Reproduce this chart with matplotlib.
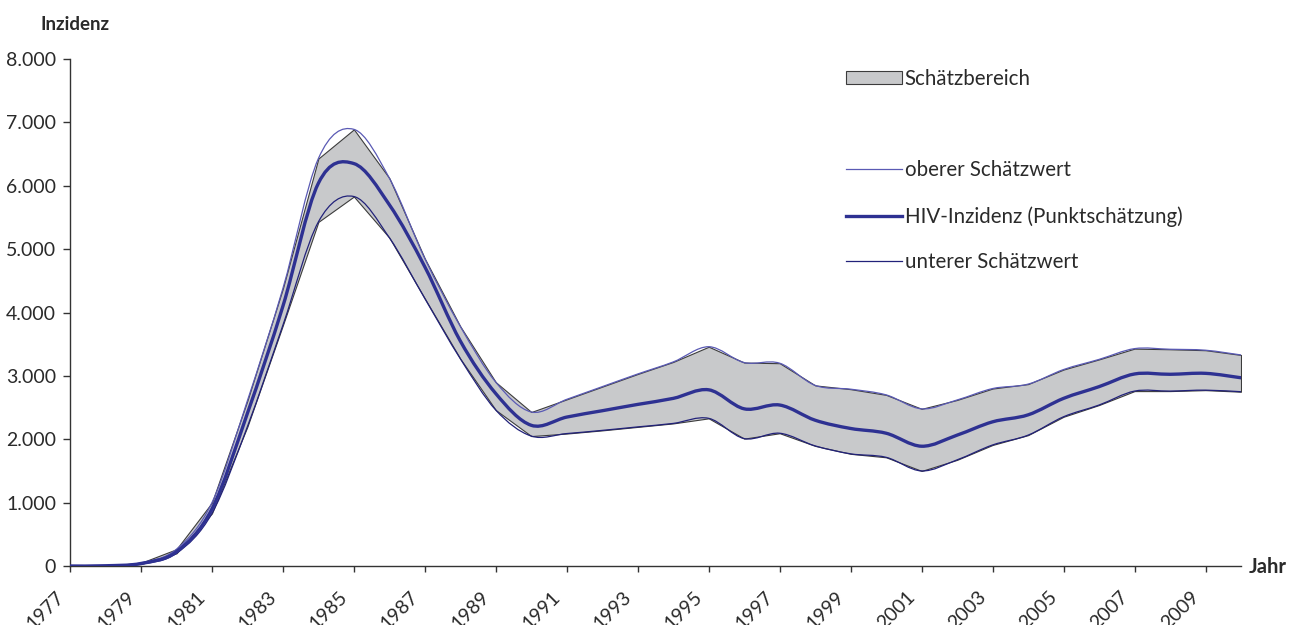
import matplotlib
matplotlib.use("Agg")
import matplotlib.pyplot as plt
from matplotlib.path import Path
from matplotlib.patches import PathPatch, Patch
from matplotlib.lines import Line2D
from matplotlib.ticker import FuncFormatter
from matplotlib.transforms import ScaledTranslation

plt.rcParams['font.family'] = ['Lato', 'DejaVu Sans']

years = list(range(1977, 2011))
upper = [0, 5, 50, 265, 1000, 2610, 4380, 6430, 6890, 6120, 4850, 3780, 2900,
         2430, 2630, 2830, 3030, 3220, 3460, 3210, 3200, 2850, 2790, 2700,
         2480, 2620, 2800, 2870, 3100, 3260, 3430, 3420, 3405, 3330]
point = [0, 4, 40, 225, 900, 2410, 4100, 6040, 6350, 5700, 4720, 3550, 2720,
         2220, 2350, 2450, 2550, 2645, 2780, 2480, 2540, 2300, 2170, 2095,
         1890, 2065, 2275, 2385, 2645, 2830, 3030, 3025, 3040, 2970]
lower = [0, 3, 30, 200, 830, 2200, 3800, 5430, 5830, 5180, 4220, 3270, 2460,
         2050, 2090, 2140, 2195, 2250, 2330, 2010, 2095, 1895, 1770, 1715,
         1500, 1675, 1910, 2065, 2355, 2540, 2760, 2760, 2775, 2750]
xtick_years = list(range(1977, 2010, 2))
yticks = list(range(0, 8001, 1000))

BAND = '#c8c9cb'
EDGE = '#3c3c3c'
C_UP = '#5a5ab4'
C_MID = '#2e3192'
C_LOW = '#22227a'
TXT = '#2a2a2a'


def smooth_path(xs, ys):
    """Excel-like smoothed line as cubic Bezier path through the points."""
    n = len(xs)
    verts = [(xs[0], ys[0])]
    codes = [Path.MOVETO]
    for i in range(n - 1):
        x0, y0 = xs[max(i - 1, 0)], ys[max(i - 1, 0)]
        x1, y1 = xs[i], ys[i]
        x2, y2 = xs[i + 1], ys[i + 1]
        x3, y3 = xs[min(i + 2, n - 1)], ys[min(i + 2, n - 1)]
        c1 = (x1 + (x2 - x0) / 6.0, y1 + (y2 - y0) / 6.0)
        c2 = (x2 - (x3 - x1) / 6.0, y2 - (y3 - y1) / 6.0)
        verts += [c1, c2, (x2, y2)]
        codes += [Path.CURVE4, Path.CURVE4, Path.CURVE4]
    return Path(verts, codes)


fig = plt.figure(figsize=(12.93, 6.25), dpi=100)
ax = fig.add_axes([70 / 1293, 1 - 566 / 625, (1241 - 70) / 1293, (566 - 59) / 625])

ax.fill_between(years, lower, upper, facecolor=BAND, edgecolor=EDGE,
                linewidth=0.8, zorder=1)

for ys, col, lw in [(upper, C_UP, 0.9), (lower, C_LOW, 0.9), (point, C_MID, 2.4)]:
    ax.add_patch(PathPatch(smooth_path(years, ys), fill=False, edgecolor=col,
                           linewidth=lw, zorder=3, capstyle='round'))

ax.set_xlim(1977, 2010)
ax.set_ylim(0, 8000)
ax.set_xticks(xtick_years)
ax.set_xticklabels([])
# rotated year labels, placed below-left of each tick like the reference
off = ScaledTranslation(-15 / 100, -22 / 100, fig.dpi_scale_trans)
for y in xtick_years:
    ax.text(y, 0, str(y), transform=ax.get_xaxis_transform() + off,
            rotation=45, ha='right', va='top', rotation_mode='anchor',
            fontsize=14, color=TXT, clip_on=False)

ax.set_yticks(yticks)
ax.yaxis.set_major_formatter(FuncFormatter(lambda v, p: f"{int(v):,}".replace(',', '.')))
for lab in ax.get_yticklabels():
    lab.set_fontsize(14)
    lab.set_color(TXT)

for s in ['top', 'right']:
    ax.spines[s].set_visible(False)
for s in ['left', 'bottom']:
    ax.spines[s].set_color('#333333')
    ax.spines[s].set_linewidth(1.0)
ax.tick_params(axis='y', direction='out', length=5, width=1, color='#333333', pad=5)
ax.tick_params(axis='x', direction='out', length=4.5, width=1, color='#333333')

fig.text(40 / 1293, 1 - 24 / 625, 'Inzidenz', fontsize=13.5, fontweight='bold',
         ha='left', va='center', color=TXT)
fig.text(1249 / 1293, 1 - 567 / 625, 'Jahr', fontsize=14.5, fontweight='bold',
         ha='left', va='center', color=TXT)

handles = [Patch(facecolor=BAND, edgecolor=EDGE, linewidth=0.8),
           Line2D([], [], color='none'),
           Line2D([], [], color=C_UP, linewidth=0.9),
           Line2D([], [], color=C_MID, linewidth=2.4),
           Line2D([], [], color=C_LOW, linewidth=0.9)]
labels = ['Schätzbereich', ' ', 'oberer Schätzwert',
          'HIV-Inzidenz (Punktschätzung)', 'unterer Schätzwert']
leg = fig.legend(handles, labels, loc='upper left',
                 bbox_to_anchor=(846 / 1293, 1 - 69 / 625), frameon=False,
                 prop={'size': 14.8},
                 handlelength=2.7, handletextpad=0.15,
                 labelspacing=1.25, borderpad=0, borderaxespad=0,
                 handleheight=0.62)
for t in leg.get_texts():
    t.set_color(TXT)

fig.savefig('out.png', dpi=100)
